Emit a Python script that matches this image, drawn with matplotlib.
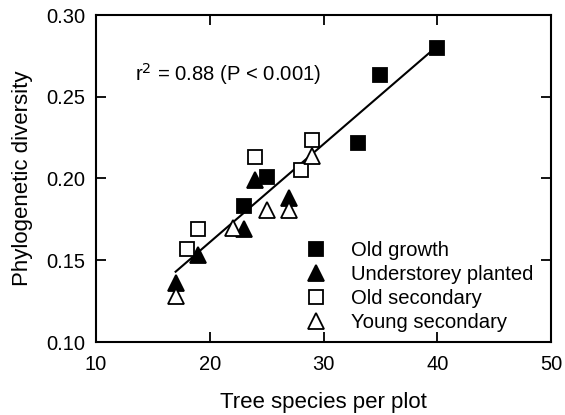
import matplotlib
matplotlib.use("Agg")
import matplotlib.pyplot as plt
import numpy as np

plt.rcParams['font.family'] = ['Liberation Sans', 'DejaVu Sans']

old_growth_x = [40, 35, 33, 25, 23]
old_growth_y = [0.280, 0.263, 0.222, 0.201, 0.183]
under_x = [24, 27, 23, 19, 17]
under_y = [0.199, 0.188, 0.169, 0.153, 0.136]
old_sec_x = [29, 24, 28, 19, 18]
old_sec_y = [0.2235, 0.213, 0.205, 0.169, 0.157]
young_sec_x = [29, 25, 27, 22, 17]
young_sec_y = [0.214, 0.181, 0.181, 0.170, 0.128]
fit_x = [17, 40]
fit_slope = 0.006
fit_intercept = 0.041
x_ticks = [10, 20, 30, 40, 50]
y_ticks = [0.10, 0.15, 0.20, 0.25, 0.30]

fig = plt.figure(figsize=(5.65, 4.15), dpi=100)
ax = fig.add_axes([96/565, 1-342/415, (551-96)/565, (342-15)/415])

fx = np.array(fit_x)
ax.plot(fx, fit_intercept + fit_slope*fx, color='black', lw=1.5, zorder=2)

ms = 10
ax.plot(old_growth_x, old_growth_y, 's', color='black', ms=ms, mfc='black', mew=1.3, ls='none', label='Old growth', zorder=3)
ax.plot(under_x, under_y, '^', color='black', ms=ms+1, mfc='black', mew=1.3, ls='none', label='Understorey planted', zorder=3)
ax.plot(old_sec_x, old_sec_y, 's', color='black', ms=ms, mfc='white', mew=1.3, ls='none', label='Old secondary', zorder=3)
ax.plot(young_sec_x, young_sec_y, '^', color='black', ms=ms+1, mfc='white', mew=1.3, ls='none', label='Young secondary', zorder=3)

ax.set_xlim(10, 50)
ax.set_ylim(0.10, 0.30)
ax.set_xticks(x_ticks)
ax.set_yticks(y_ticks)
ax.set_xticklabels([str(v) for v in x_ticks])
ax.set_yticklabels(['%.2f' % v for v in y_ticks])
ax.tick_params(direction='in', length=7, width=1.3, labelsize=14.5, top=True, right=True)
ax.tick_params(axis='x', pad=9)
ax.tick_params(axis='y', pad=8)
for s in ax.spines.values():
    s.set_linewidth(1.5)

ax.set_xlabel('Tree species per plot', fontsize=16, labelpad=13)
ax.set_ylabel('Phylogenetic diversity', fontsize=16, labelpad=9)

ax.text(0.086, 0.82, r'r$^2$ = 0.88 (P < 0.001)', transform=ax.transAxes, fontsize=14.6, va='center', ha='left')

leg = ax.legend(loc='lower right', bbox_to_anchor=(0.99, -0.01), frameon=False, fontsize=14.6,
                handletextpad=1.0, labelspacing=0.25, borderaxespad=0.25, handlelength=1.4, markerscale=1.0)

fig.savefig('out.png', dpi=100)
